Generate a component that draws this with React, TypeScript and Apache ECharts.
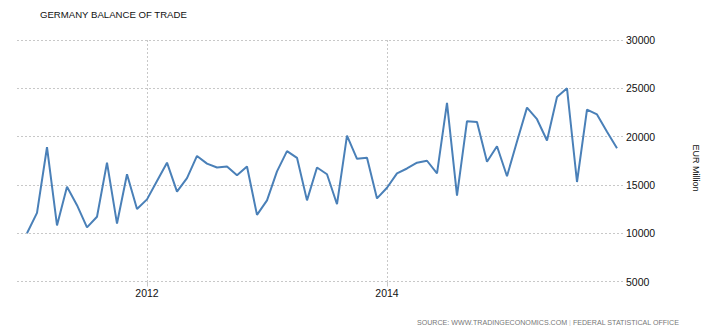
import React, { useEffect, useRef } from "react";
import * as echarts from "echarts";

// Monthly balance of trade, Jan 2011 .. Dec 2015 (EUR Million)
const values2011 = [10000, 12100, 18900, 10800, 14800, 12900, 10600, 11700, 17300, 11000, 16100, 12500];
const values2012 = [13500, 15400, 17300, 14300, 15700, 18000, 17200, 16800, 16900, 16000, 16900, 11900];
const values2013 = [13400, 16400, 18500, 17800, 13400, 16800, 16100, 13000, 20100, 17700, 17800, 13600];
const values2014 = [14700, 16200, 16700, 17300, 17500, 16200, 23500, 13900, 21600, 21500, 17400, 19000];
const values2015 = [15900, 19500, 23000, 21800, 19600, 24100, 25000, 15300, 22800, 22300, 20500, 18800];
const values = [...values2011, ...values2012, ...values2013, ...values2014, ...values2015];

const yearTickIndex = [12, 36];
const yearTickLabels: Record<number, string> = { 12: "2012", 36: "2014" };
const yTicks = [5000, 10000, 15000, 20000, 25000, 30000];

const title = "GERMANY BALANCE OF TRADE";
const unitLabel = "EUR Million";
const sourceLeft = "SOURCE: WWW.TRADINGECONOMICS.COM";
const sourceRight = "FEDERAL STATISTICAL OFFICE";

export default function App() {
  const ref = useRef<HTMLDivElement>(null);
  useEffect(() => {
    if (!ref.current) return;
    const chart = echarts.init(ref.current, null, { renderer: "svg" });
    const font = "'Liberation Sans', Arial, sans-serif";
    const data = values.map((v, i) => [i, v]);
    chart.setOption({
      animation: false,
      grid: { left: 17, right: 93, top: 40, bottom: 52.5 },
      title: {
        text: title,
        left: 40,
        top: 9,
        padding: 0,
        textStyle: { fontFamily: font, fontSize: 9.6, fontWeight: "normal", color: "#111" },
      },
      xAxis: {
        type: "value",
        min: -1,
        max: 59.7,
        axisLine: { show: false },
        axisTick: { show: true, customValues: yearTickIndex, length: 5, lineStyle: { color: "#c8c8c8" } },
        axisLabel: {
          customValues: yearTickIndex,
          formatter: (v: number) => yearTickLabels[v] ?? "",
          color: "#111",
          fontFamily: font,
          fontSize: 10.5,
          margin: 6,
        },
        splitLine: { show: true, lineStyle: { color: "#c8c8c8", type: [2, 2], width: 1 } },
      },
      yAxis: {
        type: "value",
        position: "right",
        min: 5000,
        max: 30000,
        interval: 5000,
        axisLine: { show: false },
        axisTick: { show: false },
        axisLabel: {
          color: "#111",
          fontFamily: font,
          fontSize: 10.5,
          margin: 2,
          formatter: (v: number) => (yTicks.includes(v) ? String(v) : ""),
        },
        splitLine: { show: true, lineStyle: { color: "#c8c8c8", type: [2, 2], width: 1 } },
      },
      graphic: [
        {
          type: "text",
          x: 696,
          y: 168,
          rotation: -Math.PI / 2,
          style: {
            text: unitLabel,
            fontFamily: font,
            fontSize: 9,
            fill: "#111",
            align: "center",
            verticalAlign: "middle",
          },
        },
        {
          type: "text",
          x: 417,
          y: 323,
          style: {
            text: `{a|${sourceLeft}}{s| | }{a|${sourceRight}}`,
            verticalAlign: "middle",
            rich: {
              a: { fontFamily: font, fontSize: 7.1, fill: "#777", color: "#777" },
              s: { fontFamily: font, fontSize: 7.1, fill: "#c4c4c4", color: "#c4c4c4" },
            },
          },
        },
      ],
      series: [
        {
          type: "line",
          data,
          showSymbol: false,
          symbol: "none",
          lineStyle: { color: "#4a80b8", width: 2 },
        },
      ],
    });
    return () => chart.dispose();
  }, []);
  return <div ref={ref} style={{ width: 717, height: 334, margin: -8 }} />;
}
